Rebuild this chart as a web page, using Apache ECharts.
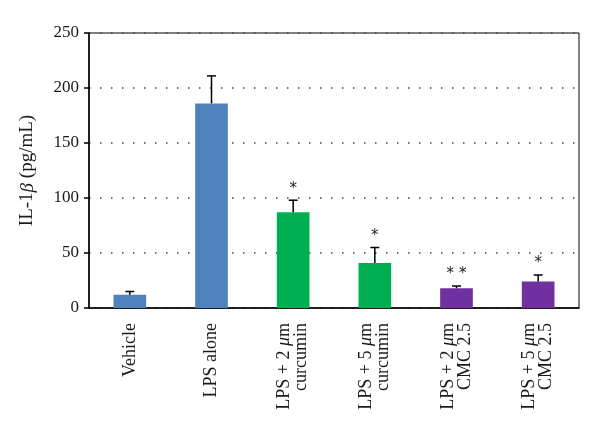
<!DOCTYPE html>
<html>
<head>
<meta charset="utf-8">
<script src="https://cdn.jsdelivr.net/npm/echarts@6/dist/echarts.min.js"></script>
<style>
  html, body { margin: 0; padding: 0; background: #fff; }
  #chart { width: 600px; height: 433px; }
</style>
</head>
<body>
<div id="chart"></div>
<script>
  // groups along the x axis
  const categories = [
    'Vehicle',
    'LPS alone',
    'LPS + 2 {i|μ}m\ncurcumin',
    'LPS + 5 {i|μ}m\ncurcumin',
    'LPS + 2 {i|μ}m\nCMC 2.5',
    'LPS + 5 {i|μ}m\nCMC 2.5'
  ]
  const means = [12, 186, 87, 41, 18, 24]
  const errTops = [15, 211, 98, 55, 20, 30]
  const stars = ['', '', '*', '*', '* *', '*']
  const barColors = ['#4f81bd', '#4f81bd', '#00b050', '#00b050', '#7030a0', '#7030a0']
  const yTicks = [0, 50, 100, 150, 200, 250]

  const serif = '"Liberation Serif", "DejaVu Serif", serif'
  const chart = echarts.init(document.getElementById('chart'))

  chart.setOption({
    animation: false,
    grid: {
      left: 89,
      right: 21,
      top: 33,
      bottom: 125,
      show: true,
      borderColor: '#000',
      borderWidth: 1
    },
    xAxis: {
      type: 'category',
      data: categories,
      axisLine: { lineStyle: { color: '#000', width: 1.5 } },
      axisTick: { length: 5, lineStyle: { color: '#000', width: 1.5 } },
      axisLabel: {
        rotate: 90,
        interval: 0,
        margin: 15,
        color: '#1a1a1a',
        fontFamily: serif,
        fontSize: 18,
        lineHeight: 17,
        rich: {
          i: { fontStyle: 'italic', fontFamily: serif, fontSize: 18, color: '#1a1a1a' }
        }
      }
    },
    yAxis: {
      type: 'value',
      min: yTicks[0],
      max: yTicks[yTicks.length - 1],
      interval: 50,
      name: '{a|IL-1}{b|β}{a| (pg/mL)}',
      nameLocation: 'middle',
      nameGap: 52,
      nameTextStyle: {
        rich: {
          a: { fontFamily: serif, fontSize: 19, color: '#1a1a1a' },
          b: { fontFamily: serif, fontSize: 19, fontStyle: 'italic', color: '#1a1a1a' }
        }
      },
      axisLine: { show: true, lineStyle: { color: '#000', width: 1.5 } },
      axisTick: { show: true, length: 5, lineStyle: { color: '#000', width: 1.5 } },
      axisLabel: { color: '#1a1a1a', fontFamily: serif, fontSize: 17, margin: 10 },
      splitLine: {
        show: true,
        lineStyle: { color: '#444', width: 1.5, type: [1.5, 9.5] }
      }
    },
    series: [
      {
        type: 'bar',
        barWidth: '40%',
        data: means.map((v, i) => ({ value: v, itemStyle: { color: barColors[i] } })),
        z: 3
      },
      {
        type: 'custom',
        z: 4,
        data: means.map((v, i) => [i, v, errTops[i], stars[i]]),
        renderItem: function (params, api) {
          const base = api.coord([api.value(0), api.value(1)])
          const top = api.coord([api.value(0), api.value(2)])
          const star = stars[params.dataIndex]
          const st = { stroke: '#000', lineWidth: 1.5 }
          const children = [
            { type: 'line', shape: { x1: base[0], y1: base[1], x2: top[0], y2: top[1] }, style: st },
            { type: 'line', shape: { x1: top[0] - 4.5, y1: top[1], x2: top[0] + 4.5, y2: top[1] }, style: st }
          ]
          if (star) {
            children.push({
              type: 'text',
              style: {
                text: star,
                x: top[0],
                y: top[1] - 4,
                align: 'center',
                verticalAlign: 'bottom',
                fontFamily: '"DejaVu Sans", sans-serif',
                fontSize: 15,
                fill: '#222'
              }
            })
          }
          return { type: 'group', children: children }
        }
      }
    ]
  })
</script>
</body>
</html>
